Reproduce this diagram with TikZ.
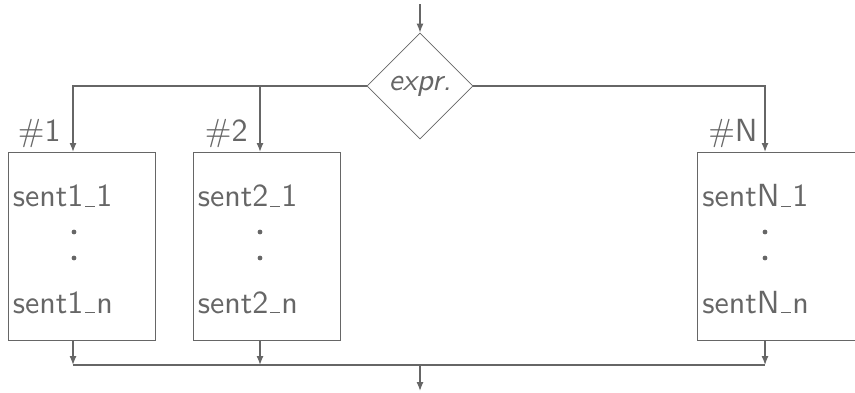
\documentclass[tikz,border=0pt]{standalone}
\usepackage{fontspec}
\setsansfont{lmsans10-regular.otf}[ItalicFont=lmsans10-oblique.otf]
\usepackage{tikz}
\usetikzlibrary{arrows.meta, shapes.geometric}

\definecolor{ink}{HTML}{666666}
% short underscore sitting on the baseline
\newcommand{\ulbar}{\leavevmode\kern.05em\vbox{\hrule width.3em height .5pt}\kern.05em}

\begin{document}
\begin{tikzpicture}[x=0.5pt, y=-0.5pt, color=ink,
    font=\sffamily\fontsize{16}{19}\selectfont,
    box/.style={draw, anchor=north west, minimum width=73.5pt, minimum height=94pt, inner sep=0pt},
    decision/.style={draw, diamond, aspect=1, minimum size=53pt, inner sep=0pt,
      font=\sffamily\itshape\fontsize{15.5}{18}\selectfont},
    case/.style={anchor=base east, inner sep=0pt, font=\sffamily\fontsize{16}{19}\selectfont},
    sent/.style={anchor=base west, inner sep=0pt},
    line/.style={line width=0.65pt},
    arr/.style={line, -{Latex[length=4.5pt, width=3.5pt]}}
  ]
  \useasboundingbox (0,0) rectangle (855,392);

  \node[decision] (expr) at (420,86) {expr.};
  \coordinate (in) at (420,4);
  \draw[arr] (in) -- (expr.north);

  \node[box] (case1) at (8,152) {};
  \node[box] (case2) at (193,152) {};
  \node[box, minimum width=80pt] (caseN) at (697,152) {};

  \node[case] (lab1) at (61,141) {\#1};
  \node[case] (lab2) at (248,141) {\#2};
  \node[case] (labN) at (758,141) {\#N};

  % branches out of the decision
  \coordinate (fork1) at (73,86);
  \coordinate (fork2) at (260,86);
  \coordinate (forkN) at (765,86);
  \draw[arr] (expr.west) -- (fork1) -- (fork1 |- case1.north);
  \draw[arr] (fork2) -- (fork2 |- case2.north);
  \draw[arr] (expr.east) -- (forkN) -- (forkN |- caseN.north);

  % statements of each case
  \node[sent] (first1) at (12.5,206.5) {sent1\ulbar 1};
  \node[sent] (last1)  at (12.5,313)   {sent1\ulbar n};
  \node[sent] (first2) at (197.5,206.5) {sent2\ulbar 1};
  \node[sent] (last2)  at (197.5,313)   {sent2\ulbar n};
  \node[sent] (firstN) at (702,206.5) {sentN\ulbar 1};
  \node[sent] (lastN)  at (702,313)   {sentN\ulbar n};
  \fill (74,232) circle (1.2pt) (74,258) circle (1.2pt);
  \fill (260,232) circle (1.2pt) (260,258) circle (1.2pt);
  \fill (765,232) circle (1.2pt) (765,258) circle (1.2pt);

  % merge below the cases
  \coordinate (join1) at (73,365);
  \coordinate (join2) at (260,365);
  \coordinate (joinN) at (765,365);
  \coordinate (out) at (420,391);
  \draw[arr] (join1 |- case1.south) -- (join1);
  \draw[arr] (join2 |- case2.south) -- (join2);
  \draw[arr] (joinN |- caseN.south) -- (joinN);
  \draw[line] (join1) -- (joinN);
  \draw[arr] (join1 -| out) -- (out);
\end{tikzpicture}
\end{document}
